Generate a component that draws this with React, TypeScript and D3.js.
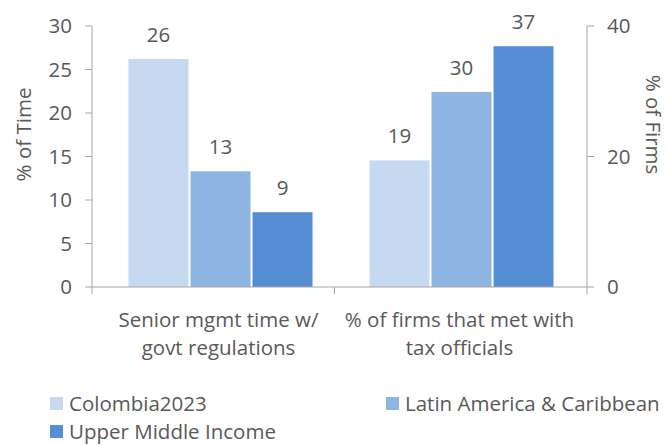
import * as d3 from "d3";

const categories = ["Senior mgmt time w/ govt regulations", "% of firms that met with tax officials"];
const categoryLines = [
  ["Senior mgmt time w/", "govt regulations"],
  ["% of firms that met with", "tax officials"],
];
const seriesNames = ["Colombia2023", "Latin America & Caribbean", "Upper Middle Income"];
const seriesColors = ["#C6D9F0", "#8EB4E2", "#558ED5"];
// first category on the left axis (% of Time), second on the right axis (% of Firms)
const timeValues = [26.2, 13.3, 8.6];
const firmValues = [19.4, 29.9, 36.9];
const leftTicks = [0, 5, 10, 15, 20, 25, 30];
const rightTicks = [0, 20, 40];

const W = 671;
const H = 445;
const plotLeft = 92;
const plotRight = 587;
const plotTop = 26;
const plotBottom = 287;
const textColor = "#595959";
const axisColor = "#A6A6A6";
const font = "'Open Sans', Lato, sans-serif";
const fs = 20.5;

export default function App() {
  const yLeft = d3.scaleLinear().domain([0, 30]).range([plotBottom, plotTop]);
  const yRight = d3.scaleLinear().domain([0, 40]).range([plotBottom, plotTop]);
  const x = d3.scaleBand<string>().domain(categories).range([plotLeft + 8, plotRight - 5]);
  const inner = d3.scaleBand<string>().domain(seriesNames).range([-92, 92]).paddingInner(0.033);
  const fmt = d3.format(".0f");

  const groups = [
    { cat: categories[0], values: timeValues, y: yLeft },
    { cat: categories[1], values: firmValues, y: yRight },
  ];

  return (
    <svg width={W} height={H} style={{ position: "absolute", left: 0, top: 0 }} fontFamily={font}>
      <rect width={W} height={H} fill="#fff" />

      {/* left axis */}
      <line x1={plotLeft} x2={plotLeft} y1={plotTop} y2={plotBottom} stroke={axisColor} />
      {leftTicks.map((t) => (
        <g key={"l" + t}>
          <line x1={plotLeft - 7} x2={plotLeft} y1={yLeft(t)} y2={yLeft(t)} stroke={axisColor} />
          <text x={72} y={yLeft(t)} dy="0.35em" textAnchor="end" fontSize={fs} fill={textColor}>
            {t}
          </text>
        </g>
      ))}
      <text
        transform={`translate(24,${(plotTop + plotBottom) / 2 - 22}) rotate(-90)`}
        textAnchor="middle"
        dy="0.35em"
        fontSize={fs}
        fill={textColor}
      >
        % of Time
      </text>

      {/* right axis */}
      <line x1={plotRight} x2={plotRight} y1={plotTop} y2={plotBottom} stroke={axisColor} />
      {rightTicks.map((t) => (
        <g key={"r" + t}>
          <line x1={plotRight} x2={plotRight + 7} y1={yRight(t)} y2={yRight(t)} stroke={axisColor} />
          <text x={607} y={yRight(t)} dy="0.35em" textAnchor="start" fontSize={fs} fill={textColor}>
            {t}
          </text>
        </g>
      ))}
      <text
        transform={`translate(653,${(plotTop + plotBottom) / 2 - 32}) rotate(90)`}
        textAnchor="middle"
        dy="0.35em"
        fontSize={fs}
        fill={textColor}
      >
        % of Firms
      </text>

      {/* bars */}
      {groups.map((g) => {
        const cx = (x(g.cat) ?? 0) + x.bandwidth() / 2;
        return (
          <g key={g.cat}>
            {g.values.map((v, i) => {
              const bx = cx + (inner(seriesNames[i]) ?? 0);
              return (
                <g key={i}>
                  <rect
                    x={bx}
                    y={g.y(v)}
                    width={inner.bandwidth()}
                    height={plotBottom - g.y(v)}
                    fill={seriesColors[i]}
                  />
                  <text
                    x={bx + inner.bandwidth() / 2}
                    y={g.y(v) - 17}
                    textAnchor="middle"
                    fontSize={fs}
                    fill={textColor}
                  >
                    {fmt(v)}
                  </text>
                </g>
              );
            })}
          </g>
        );
      })}

      {/* x axis */}
      <line x1={plotLeft} x2={plotRight} y1={plotBottom} y2={plotBottom} stroke={axisColor} />
      {[plotLeft, (plotLeft + plotRight) / 2 - 5, plotRight].map((tx) => (
        <line key={tx} x1={tx} x2={tx} y1={plotBottom} y2={plotBottom + 7} stroke={axisColor} />
      ))}
      {categories.map((c, ci) => {
        const cx = (x(c) ?? 0) + x.bandwidth() / 2 - 2;
        return (
          <text key={c} textAnchor="middle" fontSize={fs} fill={textColor}>
            {categoryLines[ci].map((ln, li) => (
              <tspan key={li} x={cx} y={327 + li * 28}>
                {ln}
              </tspan>
            ))}
          </text>
        );
      })}

      {/* legend */}
      {seriesNames.map((s, i) => {
        const lx = i === 1 ? 386 : 50;
        const ly = i === 2 ? 439 : 411;
        return (
          <g key={s}>
            <rect x={lx} y={ly - 14} width={13} height={13} fill={seriesColors[i]} />
            <text x={lx + 19} y={ly} fontSize={fs} fill={textColor}>
              {s}
            </text>
          </g>
        );
      })}
    </svg>
  );
}
